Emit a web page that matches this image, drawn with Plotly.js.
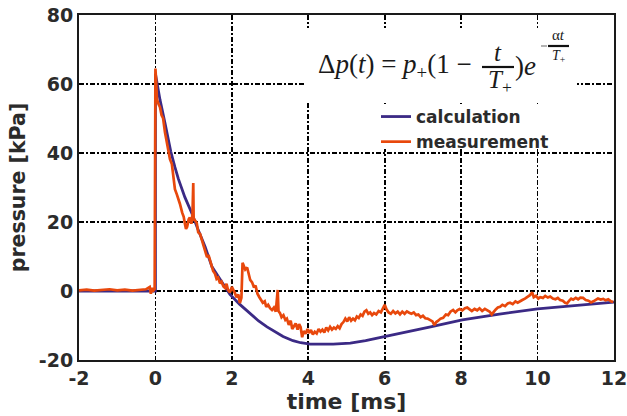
<!DOCTYPE html>
<html>
<head>
<meta charset="utf-8">
<script src="https://cdn.plot.ly/plotly-3.0.1.min.js"></script>
<style>html,body{margin:0;padding:0;background:#fff;}#chart{width:627px;height:416px;}</style>
</head>
<body>
<div id="chart"></div>
<script>
// ---- data ----
const calcTime = [-2, 0, 0, 0.12, 0.25, 0.4, 0.51, 0.6, 0.77, 0.95, 1.12, 1.3, 1.48, 1.7, 1.95, 2.2, 2.48, 2.7, 2.92, 3.15, 3.34, 3.6, 3.8, 4.05, 4.35, 4.65, 5.1, 5.5, 5.96, 6.4, 7.2, 8.03, 9.0, 10.0, 11.0, 12.0];
const calcPressure = [0, 0, 63, 55.4, 48.7, 40.5, 35.9, 32.5, 27.2, 22.6, 17.7, 12.8, 7.0, 3.2, -1.0, -3.8, -6.6, -8.7, -10.4, -12.0, -13.2, -14.4, -15.0, -15.4, -15.5, -15.4, -15.1, -14.4, -13.3, -12.2, -10.4, -8.4, -6.7, -5.2, -4.1, -3.2];

const measTime = [-2.0, -1.8, -1.6, -1.4, -1.2, -1.0, -0.8, -0.6, -0.4, -0.25, -0.15, -0.12, -0.08, -0.05, -0.02, 0.0, 0.02, 0.04, 0.08, 0.12, 0.16, 0.2, 0.25, 0.29, 0.33, 0.38, 0.43, 0.47, 0.51, 0.56, 0.6, 0.64, 0.7, 0.74, 0.77, 0.8, 0.83, 0.87, 0.9, 0.94, 0.97, 0.99, 1.0, 1.04, 1.08, 1.12, 1.17, 1.22, 1.27, 1.31, 1.35, 1.39, 1.43, 1.47, 1.51, 1.56, 1.6, 1.64, 1.69, 1.73, 1.78, 1.82, 1.86, 1.9, 1.95, 2.0, 2.03, 2.08, 2.12, 2.17, 2.21, 2.25, 2.28, 2.31, 2.35, 2.4, 2.44, 2.48, 2.53, 2.58, 2.62, 2.67, 2.72, 2.77, 2.81, 2.86, 2.9, 2.95, 3.0, 3.05, 3.1, 3.15, 3.2, 3.22, 3.26, 3.3, 3.35, 3.4, 3.44, 3.49, 3.54, 3.58, 3.62, 3.67, 3.72, 3.76, 3.8, 3.84, 3.88, 3.93, 3.98, 4.02, 4.07, 4.12, 4.17, 4.22, 4.27, 4.32, 4.37, 4.42, 4.47, 4.52, 4.57, 4.62, 4.67, 4.72, 4.77, 4.82, 4.87, 4.92, 4.97, 5.02, 5.07, 5.12, 5.17, 5.22, 5.27, 5.32, 5.37, 5.42, 5.47, 5.52, 5.57, 5.62, 5.67, 5.72, 5.78, 5.84, 5.9, 5.95, 6.0, 6.05, 6.1, 6.16, 6.22, 6.28, 6.34, 6.4, 6.46, 6.52, 6.58, 6.64, 6.7, 6.76, 6.82, 6.88, 6.94, 7.0, 7.06, 7.12, 7.19, 7.25, 7.3, 7.35, 7.4, 7.46, 7.53, 7.6, 7.66, 7.72, 7.79, 7.85, 7.9, 7.96, 8.03, 8.1, 8.16, 8.22, 8.28, 8.35, 8.42, 8.48, 8.55, 8.62, 8.68, 8.75, 8.8, 8.84, 8.9, 8.96, 9.02, 9.08, 9.15, 9.22, 9.28, 9.35, 9.42, 9.48, 9.54, 9.6, 9.67, 9.73, 9.8, 9.86, 9.9, 9.96, 10.02, 10.07, 10.14, 10.2, 10.27, 10.33, 10.4, 10.47, 10.53, 10.59, 10.66, 10.72, 10.77, 10.83, 10.88, 10.93, 11.0, 11.06, 11.12, 11.19, 11.26, 11.33, 11.4, 11.46, 11.52, 11.58, 11.65, 11.72, 11.78, 11.85, 11.92, 11.98];
const measPressure = [0.2, 0.4, 0.1, 0.3, 0.5, 0.2, 0.4, 0.1, 0.3, 0.5, 1.2, -0.8, 0.9, 0.2, 0.6, 64.5, 60.5, 55.5, 54.2, 53.3, 51.0, 50.1, 46.0, 43.5, 41.0, 38.2, 36.8, 32.5, 29.5, 28.0, 26.8, 25.3, 22.7, 21.5, 19.6, 18.0, 18.6, 20.8, 21.3, 19.5, 22.5, 31.3, 21.0, 20.2, 19.8, 17.0, 16.5, 14.6, 12.5, 11.0, 9.8, 10.4, 8.8, 7.3, 5.8, 5.0, 3.5, 3.9, 2.2, 2.7, 1.3, 0.9, 2.1, 0.3, -0.4, 1.2, 0.6, -0.6, -1.8, -1.0, -3.5, -2.0, 8.2, 7.0, 6.2, 6.8, 4.5, 3.2, 2.5, 1.0, 1.6, -0.8, -1.8, -2.6, -3.4, -3.0, -4.6, -4.0, -5.0, -5.5, -4.8, -6.0, 0.3, -5.8, -6.4, -7.6, -7.0, -8.4, -8.0, -9.8, -8.6, -11.0, -10.2, -9.4, -11.2, -9.6, -10.5, -13.4, -11.6, -12.4, -11.0, -12.2, -11.3, -12.6, -11.8, -12.3, -11.0, -11.8, -11.2, -12.0, -10.6, -11.4, -10.4, -11.2, -10.6, -11.0, -10.2, -10.8, -9.6, -9.0, -8.0, -8.8, -7.6, -8.6, -8.0, -8.5, -7.4, -7.8, -6.8, -7.2, -6.0, -5.6, -6.6, -6.2, -7.0, -6.4, -6.8, -5.8, -6.2, -5.0, -4.0, -5.4, -6.2, -6.6, -5.8, -6.5, -6.0, -6.8, -6.0, -6.6, -5.9, -6.3, -6.6, -6.2, -7.0, -6.8, -7.6, -7.2, -7.9, -8.0, -8.5, -8.8, -9.9, -9.0, -8.6, -8.0, -7.8, -6.8, -7.0, -6.0, -5.5, -6.2, -5.6, -5.2, -5.6, -5.0, -4.8, -5.4, -5.8, -5.2, -5.6, -5.0, -5.8, -5.2, -5.6, -6.0, -6.8, -6.2, -5.4, -4.8, -4.6, -4.0, -4.4, -3.6, -3.4, -3.8, -3.0, -3.4, -3.1, -2.6, -2.2, -1.7, -1.2, -0.4, -1.8, -1.4, -2.2, -1.8, -2.0, -1.4, -1.9, -1.6, -2.2, -2.4, -2.0, -2.6, -2.8, -3.4, -3.6, -2.8, -2.2, -2.5, -2.0, -2.4, -1.9, -2.0, -2.6, -2.8, -3.3, -3.0, -2.6, -2.2, -2.5, -2.3, -2.7, -2.4, -3.0, -3.2];

const seriesNames = ['calculation', 'measurement'];
const xTicks = [-2, 0, 2, 4, 6, 8, 10, 12];
const yTicks = [-20, 0, 20, 40, 60, 80];
const xTitle = 'time [ms]';
const yTitle = 'pressure [kPa]';

// ---- layout helpers (pixel -> paper) ----
const W = 627, H = 416;
const M = {l: 79, r: 13, t: 15, b: 56};
const PW = W - M.l - M.r, PH = H - M.t - M.b;
const px = x => (x - M.l) / PW;
const py = y => (H - M.b - y) / PH;

const textColor = '#2b2b2b';
const sans = 'DejaVu Sans, Verdana, sans-serif';
const serif = 'Liberation Serif, Times New Roman, serif';
const gridDash = '5px,2px,2px,2px';

const traces = [
  {x: calcTime, y: calcPressure, name: seriesNames[0], type: 'scatter', mode: 'lines',
   line: {color: '#3b2a85', width: 2.8}},
  {x: measTime, y: measPressure, name: seriesNames[1], type: 'scatter', mode: 'lines',
   line: {color: '#e8480c', width: 2.7}}
];

const ann = (text, x, y, size, xanchor, color) => ({
  text: text, xref: 'paper', yref: 'paper', x: px(x), y: py(y),
  xanchor: xanchor || 'center', yanchor: 'middle', showarrow: false,
  font: {family: serif, size: size, color: color || '#1a1a1a'}
});

const layout = {
  width: W, height: H,
  margin: M,
  paper_bgcolor: '#fff', plot_bgcolor: '#fff',
  showlegend: true,
  legend: {
    x: px(376), y: py(99), xanchor: 'left', yanchor: 'top',
    bgcolor: 'rgba(0,0,0,0)', borderwidth: 0,
    font: {family: sans, size: 17, weight: 'bold', color: textColor},
    tracegroupgap: 0
  },
  xaxis: {
    range: [-2, 12], tickvals: xTicks, ticktext: xTicks.map(String),
    showline: true, mirror: true, linecolor: '#1a1a1a', linewidth: 2,
    showgrid: true, gridcolor: '#000', gridwidth: 1.6, griddash: gridDash,
    zeroline: false, ticks: '', ticklabeloverflow: 'allow',
    tickfont: {family: sans, size: 19, weight: 'bold', color: textColor},
    title: {text: xTitle, standoff: 4, font: {family: sans, size: 22, weight: 'bold', color: textColor}}
  },
  yaxis: {
    range: [-20, 80], tickvals: yTicks, ticktext: yTicks.map(String),
    showline: true, mirror: true, linecolor: '#1a1a1a', linewidth: 2,
    showgrid: true, gridcolor: '#000', gridwidth: 1.6, griddash: gridDash,
    zeroline: false, ticks: '', ticklabeloverflow: 'allow',
    tickfont: {family: sans, size: 19, weight: 'bold', color: textColor},
    title: {text: yTitle, standoff: 8, font: {family: sans, size: 20.5, weight: 'bold', color: textColor}}
  },
  shapes: [
    // white boxes behind equation and legend
    {type: 'rect', xref: 'paper', yref: 'paper', x0: px(305), x1: px(577), y0: py(101), y1: py(28),
     fillcolor: '#fff', line: {width: 0}, layer: 'above'},
    {type: 'rect', xref: 'paper', yref: 'paper', x0: px(313), x1: px(577), y0: py(149), y1: py(104),
     fillcolor: '#fff', line: {width: 0}, layer: 'above'},
    // fraction bars of the equation
    {type: 'line', xref: 'paper', yref: 'paper', x0: px(482), x1: px(514), y0: py(67), y1: py(67),
     line: {color: '#111', width: 2.2}, layer: 'above'},
    {type: 'line', xref: 'paper', yref: 'paper', x0: px(541), x1: px(547), y0: py(46), y1: py(46),
     line: {color: '#9a9a9a', width: 1.5}, layer: 'above'},
    {type: 'line', xref: 'paper', yref: 'paper', x0: px(548), x1: px(569), y0: py(46), y1: py(46),
     line: {color: '#111', width: 2.2}, layer: 'above'}
  ],
  annotations: [
    ann('Δ<i>p</i>(<i>t</i>) = <i>p</i><sub>+</sub>(1 −', 316, 66, 27, 'left'),
    ann('<i>t</i>', 498, 52, 25),
    ann('<i>T</i><sub>+</sub>', 500, 81, 25),
    ann(')<i>e</i>', 513, 66, 27, 'left'),
    ann('α<i>t</i>', 558, 35, 15),
    ann('<i>T</i><sub>+</sub>', 559, 56, 14)
  ]
};

Plotly.newPlot('chart', traces, layout, {displayModeBar: false, staticPlot: true});
</script>
</body>
</html>
